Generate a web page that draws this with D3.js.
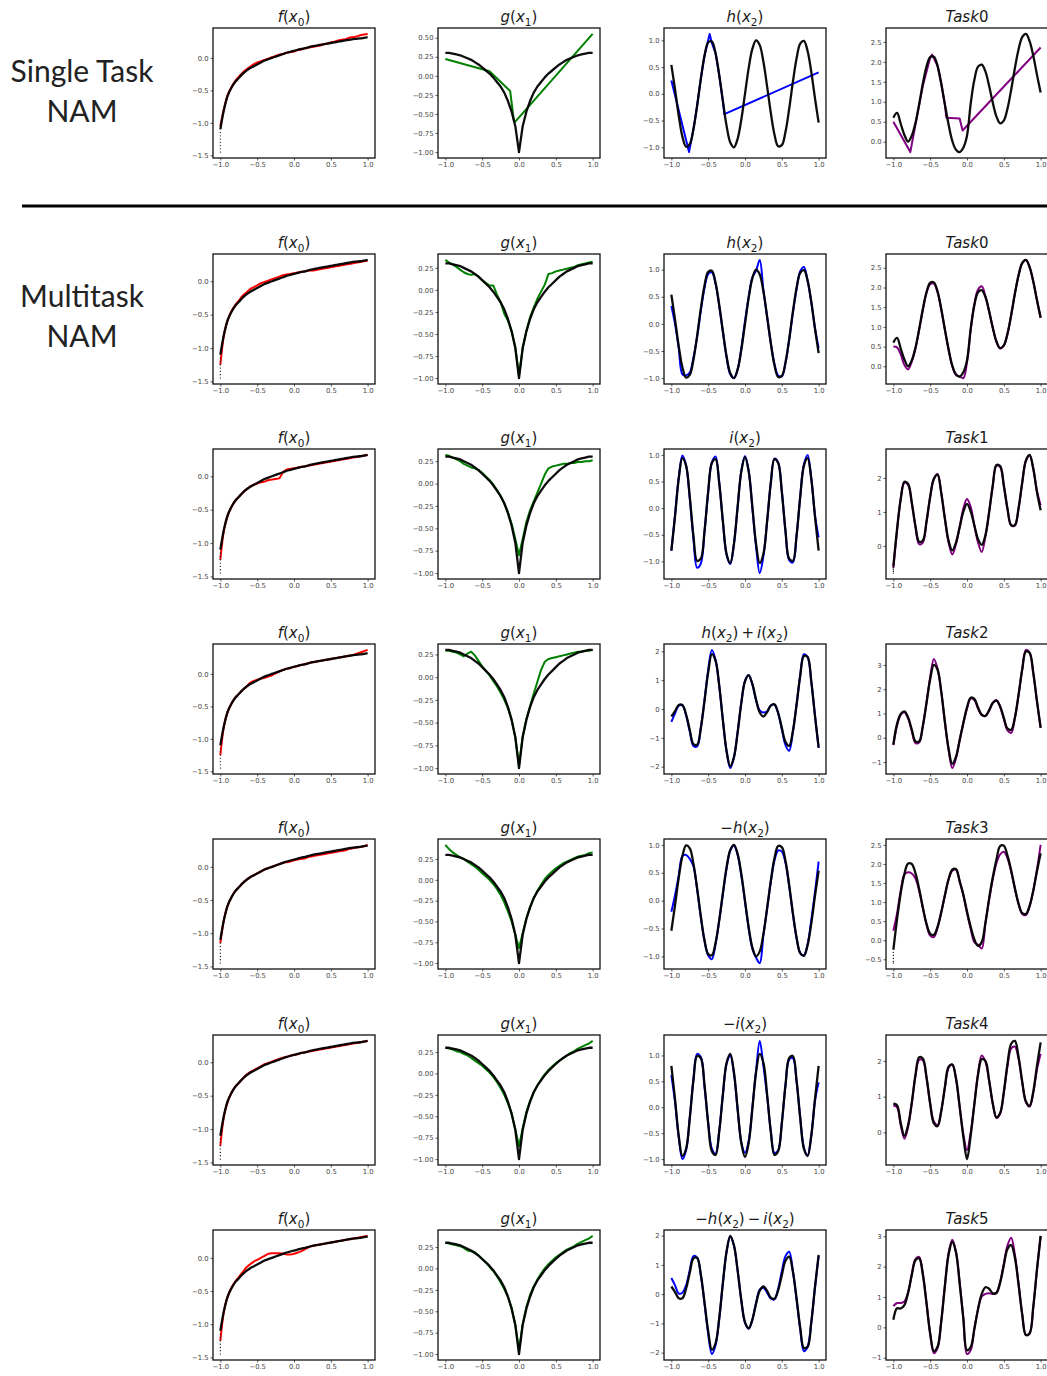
<!DOCTYPE html>
<html>
<head>
<meta charset="utf-8">
<script src="https://cdn.jsdelivr.net/npm/d3@7"></script>
<style>
  body { margin: 0; background: #fff; }
</style>
</head>
<body>
<div id="chart"></div>
<script>
// x positions of the sampled curves (-1 .. 1, step 0.05)
var xGrid = d3.range(41).map(function (i) { return -1 + i * 0.05; });
var xTicks = [-1, -0.5, 0, 0.5, 1];

// ---- ground truth curves (black) ----
var fTrue = [-1.10,-0.79,-0.58,-0.46,-0.37,-0.31,-0.25,-0.20,-0.16,-0.13,
  -0.10,-0.07,-0.04,-0.02,0.00,0.02,0.04,0.06,0.08,0.095,
  0.11,0.125,0.14,0.15,0.165,0.18,0.19,0.20,0.21,0.22,
  0.23,0.24,0.25,0.26,0.27,0.28,0.29,0.295,0.30,0.31,0.32];
var fTail = [-1.15,-1.20,-1.25,-1.30,-1.35,-1.40,-1.45];
var gTrue = [0.30,0.30,0.29,0.28,0.27,0.25,0.23,0.21,0.18,0.15,
  0.11,0.07,0.03,-0.02,-0.08,-0.14,-0.22,-0.33,-0.47,-0.66,
  -1.00,-0.66,-0.47,-0.33,-0.22,-0.14,-0.08,-0.02,0.03,0.07,
  0.11,0.15,0.18,0.21,0.23,0.25,0.27,0.28,0.29,0.30,0.30];
var hTrue = [0.54,0.08,-0.41,-0.80,-0.99,-0.94,-0.66,-0.22,0.28,0.71,
  0.96,0.98,0.76,0.35,-0.14,-0.60,-0.91,-1.00,-0.84,-0.48,
  0.00,0.48,0.84,1.00,0.91,0.60,0.14,-0.35,-0.76,-0.98,
  -0.96,-0.71,-0.28,0.22,0.66,0.94,0.99,0.80,0.41,-0.08,-0.54];
var iTrue = [-0.80,-0.15,0.55,0.94,0.80,0.21,-0.52,-0.99,-0.95,-0.43,
  0.31,0.85,0.92,0.47,-0.25,-0.86,-1.03,-0.67,0.03,0.69,
  0.96,0.69,0.03,-0.67,-1.03,-0.86,-0.25,0.47,0.92,0.85,
  0.31,-0.43,-0.95,-0.99,-0.52,0.21,0.80,0.94,0.55,-0.15,-0.80];
var hiTrue = [-0.26,-0.07,0.14,0.14,-0.19,-0.73,-1.22,-1.24,-0.67,0.28,
  1.27,1.90,1.68,0.82,-0.39,-1.46,-1.99,-1.67,-0.81,0.21,
  0.96,1.17,0.87,0.33,-0.12,-0.26,-0.11,0.12,0.16,-0.13,
  -0.65,-1.14,-1.28,-0.77,0.14,1.15,1.84,1.80,0.96,-0.23,-1.34];
var negHTrue = [-0.54,-0.08,0.41,0.80,0.99,0.94,0.66,0.22,-0.28,-0.71,
  -0.96,-0.98,-0.76,-0.35,0.14,0.60,0.91,1.00,0.84,0.48,
  0.00,-0.48,-0.84,-1.00,-0.91,-0.60,-0.14,0.35,0.76,0.98,
  0.96,0.71,0.28,-0.22,-0.66,-0.94,-0.99,-0.80,-0.41,0.08,0.54];
var negITrue = [0.80,0.15,-0.55,-0.94,-0.80,-0.21,0.52,0.99,0.95,0.43,
  -0.31,-0.85,-0.92,-0.47,0.25,0.86,1.03,0.67,-0.03,-0.69,
  -0.96,-0.69,-0.03,0.67,1.03,0.86,0.25,-0.47,-0.92,-0.85,
  -0.31,0.43,0.95,0.99,0.52,-0.21,-0.80,-0.94,-0.55,0.15,0.80];
var negHITrue = [0.26,0.07,-0.14,-0.14,0.19,0.73,1.22,1.24,0.67,-0.28,
  -1.27,-1.90,-1.68,-0.82,0.39,1.46,1.99,1.67,0.81,-0.21,
  -0.96,-1.17,-0.87,-0.33,0.12,0.26,0.11,-0.12,-0.16,0.13,
  0.65,1.14,1.28,0.77,-0.14,-1.15,-1.84,-1.80,-0.96,0.23,1.34];
var task0True = [0.60,0.72,0.45,0.17,0.00,0.15,0.47,0.94,1.45,1.88,
  2.12,2.13,1.90,1.46,0.93,0.43,0.02,-0.20,-0.26,-0.15,
  0.15,0.95,1.55,1.88,1.93,1.76,1.40,0.98,0.63,0.46,
  0.53,0.83,1.30,1.84,2.31,2.62,2.70,2.52,2.15,1.68,1.23];
var task1True = [-0.60,0.49,1.39,1.89,1.83,1.28,0.59,0.12,0.16,0.72,
  1.45,1.98,2.10,1.56,0.80,0.15,-0.13,0.10,0.55,1.00,
  1.24,1.02,0.60,0.20,0.03,0.31,0.99,1.78,2.38,2.35,
  1.78,1.09,0.61,0.61,1.11,1.87,2.52,2.68,2.27,1.59,1.05];
var task1Tail = [-0.65,-0.70,-0.75,-0.80];
var task2True = [-0.28,0.57,0.98,1.09,0.84,0.34,-0.15,-0.15,0.48,1.43,
  2.41,3.00,2.80,1.91,0.66,-0.45,-1.08,-0.79,-0.10,0.60,
  1.25,1.65,1.60,1.25,0.95,0.90,1.13,1.43,1.53,1.29,
  0.82,0.38,0.33,0.83,1.77,2.81,3.55,3.50,2.68,1.51,0.41];
var task3True = [-0.25,0.55,1.24,1.74,2.01,2.00,1.76,1.35,0.86,0.43,
  0.17,0.14,0.35,0.73,1.18,1.60,1.85,1.87,1.55,1.20,
  0.75,0.35,0.02,-0.15,-0.05,0.45,1.09,1.65,2.12,2.47,
  2.48,2.22,1.83,1.37,0.96,0.71,0.69,0.90,1.30,1.81,2.28];
var task3Tail = [-0.32,-0.40,-0.48,-0.56,-0.60];
var task4True = [0.80,0.76,0.26,-0.10,0.20,0.83,1.60,2.10,2.07,1.55,
  0.80,0.25,0.17,0.59,1.27,1.84,1.90,1.52,0.72,-0.12,
  -0.75,-0.09,0.78,1.61,2.05,2.00,1.46,0.81,0.42,0.54,
  1.13,1.92,2.48,2.56,2.12,1.42,0.86,0.74,1.14,1.86,2.52];
var task5True = [0.25,0.63,0.62,0.73,1.14,1.72,2.21,2.27,1.74,0.79,
  -0.21,-0.78,-0.64,0.19,1.36,2.39,2.81,2.47,1.45,0.30,
  -0.75,-0.65,-0.05,0.60,1.10,1.32,1.27,1.12,1.13,1.47,
  2.04,2.58,2.71,2.29,1.41,0.43,-0.25,-0.20,0.68,1.89,3.01];

// ---- learned shape functions (coloured) ----
var fFit0 = [-1.05,-0.78,-0.57,-0.45,-0.36,-0.29,-0.23,-0.18,-0.14,-0.10,
  -0.07,-0.05,-0.03,-0.01,0.01,0.03,0.05,0.06,0.08,0.09,
  0.10,0.12,0.13,0.15,0.16,0.17,0.18,0.19,0.21,0.22,
  0.24,0.25,0.27,0.28,0.29,0.31,0.32,0.33,0.35,0.36,0.37];
var fFit1 = [-1.25,-0.80,-0.58,-0.45,-0.36,-0.29,-0.22,-0.17,-0.12,-0.09,
  -0.06,-0.03,-0.01,0.01,0.03,0.05,0.07,0.09,0.10,0.11,
  0.12,0.13,0.14,0.15,0.16,0.16,0.17,0.18,0.19,0.20,
  0.21,0.22,0.23,0.24,0.25,0.26,0.27,0.28,0.29,0.30,0.31];
var fFit2 = [-1.25,-0.80,-0.59,-0.46,-0.37,-0.31,-0.25,-0.20,-0.16,-0.13,
  -0.11,-0.09,-0.08,-0.06,-0.05,-0.04,-0.03,0.06,0.10,0.11,
  0.12,0.13,0.14,0.15,0.16,0.17,0.18,0.19,0.20,0.21,
  0.22,0.23,0.24,0.25,0.26,0.27,0.28,0.29,0.30,0.31,0.32];
var fFit3 = [-1.25,-0.80,-0.58,-0.46,-0.37,-0.31,-0.25,-0.20,-0.14,-0.11,
  -0.09,-0.07,-0.06,-0.04,-0.02,0.01,0.04,0.06,0.08,0.09,
  0.11,0.12,0.14,0.15,0.17,0.18,0.19,0.20,0.21,0.22,
  0.23,0.24,0.25,0.26,0.27,0.28,0.29,0.31,0.33,0.35,0.37];
var fFit4 = [-1.15,-0.79,-0.58,-0.46,-0.37,-0.31,-0.25,-0.20,-0.16,-0.13,
  -0.10,-0.07,-0.04,-0.02,0.00,0.02,0.04,0.06,0.07,0.08,
  0.10,0.11,0.12,0.13,0.15,0.16,0.17,0.18,0.19,0.20,
  0.21,0.22,0.23,0.24,0.25,0.27,0.28,0.29,0.30,0.31,0.33];
var fFit5 = [-1.25,-0.80,-0.59,-0.46,-0.37,-0.31,-0.25,-0.19,-0.15,-0.12,
  -0.09,-0.06,-0.03,-0.01,0.01,0.03,0.05,0.07,0.08,0.10,
  0.11,0.12,0.14,0.15,0.16,0.17,0.18,0.19,0.20,0.21,
  0.22,0.23,0.24,0.25,0.26,0.27,0.28,0.29,0.30,0.31,0.32];
var fFit6 = [-1.25,-0.80,-0.58,-0.45,-0.36,-0.29,-0.22,-0.15,-0.10,-0.06,
  -0.03,0.00,0.03,0.06,0.07,0.07,0.07,0.06,0.05,0.05,
  0.06,0.08,0.10,0.13,0.16,0.18,0.19,0.20,0.21,0.22,
  0.23,0.24,0.25,0.26,0.27,0.28,0.29,0.30,0.31,0.32,0.33];

var gFit0 = [[-1, 0.22], [-0.4, 0.06], [-0.12, -0.20], [-0.07, -0.58], [-0.05, -0.60], [1, 0.55]];
var gFit1 = [0.34,0.31,0.29,0.26,0.23,0.20,0.18,0.17,0.18,0.15,
  0.11,0.08,0.05,0.05,-0.05,-0.14,-0.27,-0.35,-0.47,-0.65,
  -0.97,-0.66,-0.47,-0.31,-0.20,-0.10,-0.02,0.06,0.18,0.19,
  0.21,0.22,0.23,0.24,0.25,0.26,0.28,0.29,0.30,0.31,0.32];
var gFit2 = [0.32,0.31,0.29,0.27,0.25,0.22,0.20,0.18,0.17,0.15,
  0.12,0.08,0.04,-0.01,-0.07,-0.14,-0.22,-0.32,-0.45,-0.62,
  -0.80,-0.62,-0.43,-0.30,-0.20,-0.10,0.00,0.10,0.17,0.19,
  0.20,0.21,0.22,0.22,0.23,0.23,0.24,0.24,0.25,0.25,0.26];
var gFit3 = [0.29,0.29,0.28,0.27,0.25,0.23,0.26,0.28,0.24,0.18,
  0.12,0.07,0.02,-0.04,-0.10,-0.17,-0.25,-0.34,-0.47,-0.66,
  -0.97,-0.65,-0.46,-0.32,-0.18,-0.05,0.08,0.17,0.20,0.21,
  0.22,0.23,0.24,0.25,0.26,0.27,0.28,0.28,0.29,0.29,0.30];
var gFit4 = [0.42,0.37,0.33,0.30,0.27,0.25,0.22,0.19,0.16,0.12,
  0.08,0.04,0.00,-0.05,-0.11,-0.18,-0.27,-0.38,-0.50,-0.66,
  -0.82,-0.64,-0.46,-0.33,-0.22,-0.13,-0.06,0.01,0.06,0.10,
  0.14,0.17,0.20,0.22,0.24,0.26,0.28,0.29,0.30,0.32,0.33];
var gFit5 = [0.30,0.29,0.28,0.26,0.25,0.23,0.21,0.18,0.15,0.12,
  0.09,0.05,0.01,-0.04,-0.10,-0.17,-0.25,-0.35,-0.47,-0.65,
  -0.85,-0.64,-0.45,-0.32,-0.22,-0.14,-0.07,-0.01,0.04,0.08,
  0.12,0.15,0.18,0.21,0.24,0.26,0.29,0.31,0.33,0.35,0.38];
var gFit6 = [0.30,0.29,0.28,0.27,0.26,0.24,0.21,0.20,0.19,0.15,
  0.11,0.07,0.02,-0.03,-0.09,-0.16,-0.24,-0.33,-0.46,-0.66,
  -0.95,-0.65,-0.45,-0.31,-0.21,-0.13,-0.06,0.00,0.05,0.09,
  0.13,0.16,0.19,0.22,0.24,0.26,0.29,0.31,0.33,0.35,0.38];

var hFit0 = [[-1, 0.25], [-0.76, -1.09], [-0.7, -0.66], [-0.65, -0.22], [-0.6, 0.28], [-0.55, 0.71],
  [-0.48, 1.12], [-0.45, 0.95], [-0.4, 0.76], [-0.35, 0.35], [-0.3, -0.14], [-0.28, -0.38], [1, 0.40]];
var hFit1 = [0.33,0.00,-0.45,-0.93,-0.95,-0.90,-0.62,-0.24,0.24,0.66,
  0.92,0.95,0.74,0.33,-0.15,-0.62,-0.93,-1.00,-0.84,-0.45,
  0.05,0.50,0.86,0.98,1.18,0.62,0.13,-0.35,-0.74,-0.95,
  -0.97,-0.72,-0.30,0.20,0.64,0.97,1.05,0.80,0.40,-0.08,-0.45];
var iFit2 = [-0.80,-0.12,0.58,0.99,0.80,0.18,-0.58,-1.12,-1.04,-0.45,
  0.30,0.86,0.97,0.48,-0.26,-0.88,-1.05,-0.67,0.02,0.70,
  0.98,0.70,0.00,-0.72,-1.22,-0.90,-0.26,0.47,0.93,0.86,
  0.31,-0.44,-0.98,-1.02,-0.52,0.22,0.82,1.00,0.57,-0.13,-0.55];
var hiFit3 = [-0.45,-0.15,0.12,0.12,-0.22,-0.78,-1.28,-1.30,-0.65,0.30,
  1.35,2.05,1.70,0.80,-0.40,-1.48,-2.05,-1.68,-0.80,0.22,
  0.98,1.18,0.85,0.30,-0.05,-0.12,-0.08,0.12,0.15,-0.15,
  -0.70,-1.25,-1.45,-0.80,0.15,1.18,1.90,1.80,0.96,-0.22,-1.35];
var negHFit4 = [-0.20,0.10,0.45,0.80,0.82,0.75,0.62,0.20,-0.30,-0.72,
  -0.98,-1.05,-0.78,-0.36,0.12,0.58,0.90,0.99,0.82,0.45,
  -0.02,-0.50,-0.86,-1.02,-1.12,-0.62,-0.15,0.33,0.72,0.90,
  0.88,0.68,0.26,-0.24,-0.67,-0.94,-0.98,-0.78,-0.35,0.15,0.70];
var negIFit5 = [0.62,0.10,-0.58,-1.00,-0.83,-0.20,0.55,1.03,0.97,0.40,
  -0.30,-0.80,-0.90,-0.45,0.25,0.84,1.00,0.65,-0.05,-0.68,
  -0.88,-0.65,0.00,0.70,1.28,0.80,0.22,-0.45,-0.88,-0.83,
  -0.30,0.42,0.92,0.95,0.50,-0.20,-0.78,-0.93,-0.55,0.12,0.48];
var negHIFit6 = [0.55,0.30,0.02,0.05,0.30,0.82,1.30,1.25,0.65,-0.32,
  -1.35,-2.05,-1.75,-0.85,0.38,1.45,1.96,1.65,0.80,-0.22,
  -0.98,-1.18,-0.88,-0.30,0.15,0.22,0.05,-0.15,-0.18,0.18,
  0.78,1.30,1.45,0.80,-0.18,-1.20,-1.95,-1.80,-0.98,0.22,1.30];

var task0Fit0 = [[-1, 0.50], [-0.77, -0.26], [-0.6, 1.40], [-0.5, 2.10], [-0.475, 2.18], [-0.4, 1.90],
  [-0.35, 1.46], [-0.3, 0.93], [-0.28, 0.60], [-0.1, 0.58], [-0.06, 0.28], [1, 2.36]];
var task0Fit1 = [0.50,0.48,0.30,0.03,-0.08,0.12,0.45,0.92,1.43,1.86,
  2.08,2.10,1.88,1.44,0.92,0.42,0.00,-0.22,-0.26,-0.30,
  0.10,0.92,1.58,1.95,2.03,1.78,1.40,0.98,0.62,0.45,
  0.52,0.82,1.30,1.84,2.30,2.62,2.70,2.52,2.15,1.68,1.23];
var task1Fit = [-0.65,0.45,1.37,1.86,1.80,1.26,0.55,0.05,0.10,0.70,
  1.44,1.97,2.12,1.57,0.80,0.10,-0.25,0.05,0.55,1.10,
  1.38,1.15,0.60,0.10,-0.18,0.28,0.98,1.77,2.36,2.33,
  1.78,1.09,0.60,0.60,1.10,1.85,2.50,2.66,2.28,1.62,1.20];
var task2Fit = [-0.30,0.50,0.95,1.05,0.80,0.28,-0.22,-0.20,0.48,1.45,
  2.50,3.25,2.85,1.90,0.62,-0.50,-1.25,-0.85,-0.10,0.60,
  1.20,1.62,1.55,1.20,0.93,0.90,1.12,1.45,1.55,1.27,
  0.78,0.30,0.20,0.80,1.75,2.82,3.62,3.50,2.66,1.50,0.42];
var task3Fit = [0.25,0.70,1.30,1.72,1.78,1.75,1.62,1.30,0.85,0.42,
  0.12,0.08,0.33,0.73,1.18,1.60,1.82,1.85,1.55,1.18,
  0.72,0.30,-0.05,-0.12,-0.22,0.45,1.05,1.60,2.02,2.25,
  2.32,2.15,1.80,1.35,0.95,0.69,0.66,0.88,1.30,1.85,2.50];
var task4Fit = [0.75,0.70,0.20,-0.18,0.15,0.80,1.58,2.03,2.02,1.52,
  0.80,0.30,0.20,0.60,1.25,1.80,1.90,1.50,0.72,-0.05,
  -0.50,0.00,0.80,1.65,2.15,1.98,1.45,0.80,0.40,0.52,
  1.10,1.85,2.35,2.40,2.05,1.40,0.85,0.72,1.10,1.75,2.20];
var task5Fit = [0.70,0.80,0.80,0.85,1.15,1.75,2.25,2.32,1.78,0.82,
  -0.20,-0.85,-0.68,0.20,1.40,2.45,2.88,2.50,1.50,0.30,
  -0.88,-0.75,-0.05,0.60,1.02,1.10,1.12,1.10,1.15,1.50,
  2.10,2.70,2.95,2.40,1.45,0.42,-0.25,-0.20,0.65,1.90,3.00];

// titles and tick labels
var compTitles = ["h(x_2)", "h(x_2)", "i(x_2)", "h(x_2)+i(x_2)", "-h(x_2)", "-i(x_2)", "-h(x_2)-i(x_2)"];
var taskTitles = ["Task0", "Task0", "Task1", "Task2", "Task3", "Task4", "Task5"];
var fTicks = [-1.5, -1.0, -0.5, 0.0];
var gTicksTop = [-1.0, -0.75, -0.5, -0.25, 0.0, 0.25, 0.5];
var gTicks = [-1.0, -0.75, -0.5, -0.25, 0.0, 0.25];
var compTicks = [[-1, -0.5, 0, 0.5, 1], [-1, -0.5, 0, 0.5, 1], [-1, -0.5, 0, 0.5, 1], [-2, -1, 0, 1, 2],
  [-1, -0.5, 0, 0.5, 1], [-1, -0.5, 0, 0.5, 1], [-2, -1, 0, 1, 2]];
var taskTicks = [[0, 0.5, 1, 1.5, 2, 2.5], [0, 0.5, 1, 1.5, 2, 2.5], [0, 1, 2], [-1, 0, 1, 2, 3],
  [-0.5, 0, 0.5, 1, 1.5, 2, 2.5], [0, 1, 2], [-1, 0, 1, 2, 3]];

var fFits = [fFit0, fFit1, fFit2, fFit3, fFit4, fFit5, fFit6];
var gFits = [gFit0, gFit1, gFit2, gFit3, gFit4, gFit5, gFit6];
var compTrue = [hTrue, hTrue, iTrue, hiTrue, negHTrue, negITrue, negHITrue];
var compFits = [hFit0, hFit1, iFit2, hiFit3, negHFit4, negIFit5, negHIFit6];
var taskTrue = [task0True, task0True, task1True, task2True, task3True, task4True, task5True];
var taskFits = [task0Fit0, task0Fit1, task1Fit, task2Fit, task3Fit, task4Fit, task5Fit];
var taskTails = [null, null, task1Tail, null, task3Tail, null, null];

// sanity check on sampled arrays
[fTrue, gTrue].concat(compTrue, taskTrue, fFits, gFits.slice(1), compFits.slice(1), taskFits.slice(1))
  .forEach(function (a, k) {
    if (a.length !== 41) throw new Error("array " + k + " has length " + a.length);
  });

var width = 1047, height = 1376;
var colLeft = [213, 438, 664, 886];
var rowTop = [28, 254, 449, 644, 839, 1035, 1230];
var pw = 162, ph = 130;

var svg = d3.select("#chart").append("svg")
  .attr("width", width)
  .attr("height", height)
  .style("font-family", "'DejaVu Sans', sans-serif");

function toPts(arr) {
  if (typeof arr[0] === "number") return arr.map(function (v, i) { return [xGrid[i], v]; });
  return arr;
}

// mathtext-ish title: letters italic, _n subscript, +/- spaced
function drawTitle(g, s) {
  var t = g.append("text")
    .attr("x", pw / 2).attr("y", -6)
    .attr("text-anchor", "middle")
    .attr("font-size", 15)
    .attr("fill", "#1a1a1a");
  var i = 0, lastSub = false;
  while (i < s.length) {
    var c = s[i];
    var span = t.append("tspan");
    if (lastSub) { span.attr("dy", -3.5); lastSub = false; }
    if (c === "_") {
      span.text(s[i + 1]).attr("font-size", 10.5).attr("dy", 3.5);
      lastSub = true;
      i += 2;
      continue;
    }
    if (c === "+" || c === "-") {
      var sym = c === "-" ? "\u2212" : "+";
      span.text(i === 0 ? sym : "\u2009" + sym + "\u2009");
    } else {
      span.text(c);
      if (/[A-Za-z]/.test(c)) span.attr("font-style", "italic");
    }
    i++;
  }
}

function drawPanel(col, row, spec) {
  var g = svg.append("g")
    .attr("transform", "translate(" + colLeft[col] + "," + rowTop[row] + ")");

  var x = d3.scaleLinear().domain([-1.1, 1.1]).range([0, pw]);
  var vals = [];
  spec.series.forEach(function (s) { s.pts = toPts(s.data); s.pts.forEach(function (p) { vals.push(p[1]); }); });
  if (spec.tail) vals = vals.concat(spec.tail);
  var ext = d3.extent(vals);
  var pad = (ext[1] - ext[0]) * 0.05;
  var y = d3.scaleLinear().domain([ext[0] - pad, ext[1] + pad]).range([ph, 0]);

  var step = spec.yTicks[1] - spec.yTicks[0];
  var dec = step < 0.5 ? 2 : (step < 1 ? 1 : 0);

  var xAxis = g.append("g")
    .attr("transform", "translate(0," + ph + ")")
    .call(d3.axisBottom(x).tickValues(xTicks).tickSize(2.5).tickPadding(1.5).tickFormat(d3.format(".1f")));
  var yAxis = g.append("g")
    .call(d3.axisLeft(y).tickValues(spec.yTicks).tickSize(2.5).tickPadding(2).tickFormat(d3.format("." + dec + "f")));
  [xAxis, yAxis].forEach(function (a) {
    a.select(".domain").remove();
    a.selectAll("text").attr("font-size", 6.8).attr("fill", "#444").attr("font-family", "'DejaVu Sans', sans-serif");
    a.selectAll("line").attr("stroke", "#333").attr("stroke-width", 0.8);
  });

  spec.series.forEach(function (s) {
    var line = d3.line()
      .x(function (p) { return x(p[0]); })
      .y(function (p) { return y(p[1]); })
      .curve(s.linear ? d3.curveLinear : d3.curveCatmullRom.alpha(0.5));
    g.append("path")
      .datum(s.pts)
      .attr("d", line)
      .attr("fill", "none")
      .attr("stroke", s.color)
      .attr("stroke-width", s.color === "black" ? 2.3 : 2)
      .attr("stroke-linejoin", "round")
      .attr("opacity", s.color === "black" ? 0.95 : 1);
  });

  if (spec.tail) {
    g.selectAll(".tail")
      .data(spec.tail)
      .enter().append("circle")
      .attr("cx", x(-1))
      .attr("cy", function (d) { return y(d); })
      .attr("r", 0.7)
      .attr("fill", "#222");
  }

  g.append("rect")
    .attr("width", pw).attr("height", ph)
    .attr("fill", "none")
    .attr("stroke", "#111")
    .attr("stroke-width", 1.3);

  drawTitle(g, spec.title);
}

function isPairs(a) { return typeof a[0] !== "number"; }

for (var r = 0; r < 7; r++) {
  drawPanel(0, r, {
    title: "f(x_0)", yTicks: fTicks, tail: fTail,
    series: [{ data: fFits[r], color: "red", linear: isPairs(fFits[r]) }, { data: fTrue, color: "black" }]
  });
  drawPanel(1, r, {
    title: "g(x_1)", yTicks: r === 0 ? gTicksTop : gTicks,
    series: [{ data: gFits[r], color: "green", linear: true }, { data: gTrue, color: "black", linear: true }]
  });
  drawPanel(2, r, {
    title: compTitles[r], yTicks: compTicks[r],
    series: [{ data: compFits[r], color: "blue", linear: isPairs(compFits[r]) }, { data: compTrue[r], color: "black" }]
  });
  drawPanel(3, r, {
    title: taskTitles[r], yTicks: taskTicks[r], tail: taskTails[r],
    series: [{ data: taskFits[r], color: "purple", linear: isPairs(taskFits[r]) }, { data: taskTrue[r], color: "black" }]
  });
}

// row labels and separator
var labels = [
  { text: "Single Task", y: 82 }, { text: "NAM", y: 122 },
  { text: "Multitask", y: 307 }, { text: "NAM", y: 347 }
];
svg.selectAll(".rowlabel")
  .data(labels)
  .enter().append("text")
  .attr("x", 82)
  .attr("y", function (d) { return d.y; })
  .attr("text-anchor", "middle")
  .attr("font-family", "Lato, 'Open Sans', sans-serif")
  .attr("font-size", 30)
  .attr("fill", "#222")
  .text(function (d) { return d.text; });

svg.append("line")
  .attr("x1", 22).attr("x2", width)
  .attr("y1", 206).attr("y2", 206)
  .attr("stroke", "#000")
  .attr("stroke-width", 3);
</script>
</body>
</html>
